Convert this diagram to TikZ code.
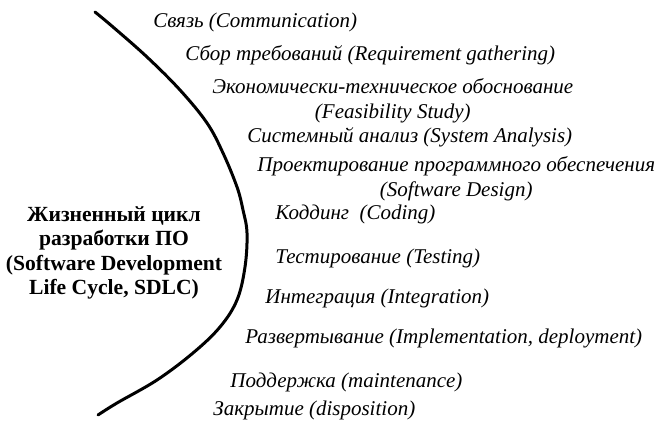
\documentclass[tikz,border=0pt]{standalone}
\usepackage{fontspec}
\setmainfont{Liberation Serif}
\usetikzlibrary{positioning}

\begin{document}
\begin{tikzpicture}[
  x=0.5pt, y=-0.5pt,
  stage/.style={anchor=west, inner sep=0pt, align=center,
                font=\fontsize{10.5}{12.5}\selectfont\itshape},
  title/.style={inner sep=0pt, align=center,
                font=\fontsize{10.8}{12.2}\selectfont\bfseries},
  arc/.style={line width=1.5pt, line cap=round}
]
\useasboundingbox (0,0) rectangle (664,421);
% the bracket between the title and the stages
\draw[arc] plot[smooth, tension=0.6] coordinates {
  (95,12) (113,27) (147,57) (180,90) (207,123) (223,153) (237,187)
  (243,210) (247,233) (245,267) (237,300) (220,327) (193,353)
  (157,380) (117,403) (98,415)};
\node[title] (sdlc) at (114,253)
  {Жизненный цикл\\разработки ПО\\(Software Development\\Life Cycle, SDLC)};
% stages, top to bottom
\node[stage] (comm) at (153,22) {Связь (Communication)};
\node[stage] (req) at (185,55) {Сбор требований (Requirement gathering)};
\node[stage] (feas) at (212,101)
  {Экономически-техническое обоснование\\(Feasibility Study)};
\node[stage] (anal) at (247,137) {Системный анализ (System Analysis)};
\node[stage] (design) at (257,179)
  {Проектирование программного обеспечения\\(Software Design)};
\node[stage] (code) at (275,214) {Коддинг~ (Coding)};
\node[stage] (test) at (275,258) {Тестирование (Testing)};
\node[stage] (integ) at (265,298) {Интеграция (Integration)};
\node[stage] (deploy) at (245,338) {Развертывание (Implementation, deployment)};
\node[stage] (maint) at (230,382) {Поддержка (maintenance)};
\node[stage] (disp) at (213,410) {Закрытие (disposition)};
\end{tikzpicture}
\end{document}
